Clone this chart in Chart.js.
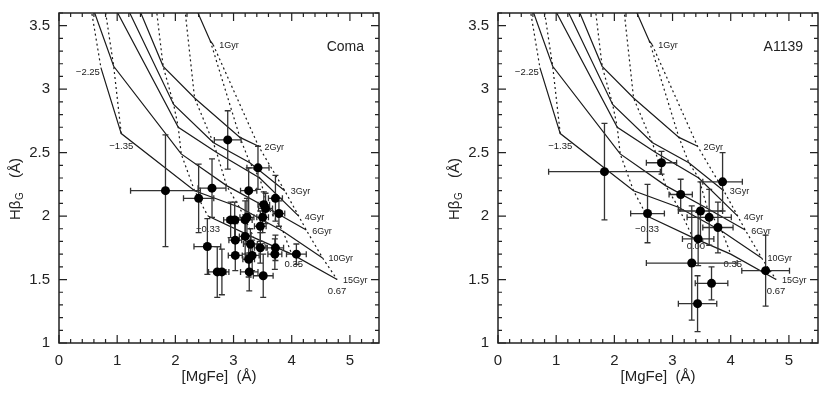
<!DOCTYPE html>
<html lang="en">
<head>
<meta charset="UTF-8">
<title>Hbeta_G vs [MgFe]</title>
<script src="https://cdn.jsdelivr.net/npm/chart.js@4.4.1/dist/chart.umd.min.js"></script>
<style>
  html, body { margin: 0; padding: 0; background: #fff; }
  #wrap { position: relative; width: 830px; height: 396px; }
  .panel { position: absolute; top: 0; width: 391px; height: 396px; }
</style>
</head>
<body>
<div id="wrap">
  <div class="panel" style="left:0"><canvas id="comaChart" width="391" height="396"></canvas></div>
  <div class="panel" style="left:439px"><canvas id="a1139Chart" width="391" height="396"></canvas></div>
</div>
<script>
// model grid, one row per metallicity, one column per age (null = no model)
var ages = ['1Gyr', '2Gyr', '3Gyr', '4Gyr', '6Gyr', '10Gyr', '15Gyr'];
var metals = ['\u22122.25', '\u22121.35', '\u22120.33', '0.00', '0.35', '0.67'];
var gridMgFe = [
  [0.20, 0.30, 0.38, 0.45, 0.52, 0.72, null],
  [1.00, 0.95, 0.85, 0.72, 0.94, 1.07, null],
  [1.50, 1.79, 1.97, 2.05, 2.10, 2.33, 2.56],
  [2.10, 2.33, 2.65, 2.71, 2.88, 3.10, 3.35],
  [2.60, 3.11, 3.28, 3.45, 3.60, 3.85, 4.00],
  [2.65, 3.43, 3.88, 4.12, 4.25, 4.53, 4.78]
];
var gridHb = [
  [5.00, 4.70, 4.30, 4.00, 3.72, 3.17, null],
  [4.60, 4.10, 3.95, 3.85, 3.18, 2.65, null],
  [4.30, 3.18, 2.88, 2.70, 2.49, 2.20, 2.00],
  [3.90, 2.93, 2.58, 2.50, 2.24, 2.07, 1.83],
  [3.38, 2.62, 2.42, 2.30, 2.06, 1.88, 1.70],
  [3.35, 2.55, 2.20, 2.00, 1.89, 1.67, 1.50]
];

// Coma galaxies
var comaMgFe    = [2.90, 3.42, 1.83, 2.40, 2.63, 3.26, 3.72, 3.52, 3.55, 3.78, 3.50, 3.23, 2.95, 3.02, 3.20, 3.46,
                   3.20, 3.03, 3.29, 2.55, 3.46, 3.72, 3.71, 4.08, 3.03, 3.26, 3.32, 2.72, 2.80, 3.27, 3.51];
var comaHb      = [2.60, 2.38, 2.20, 2.14, 2.22, 2.20, 2.14, 2.09, 2.06, 2.02, 1.99, 1.99, 1.97, 1.97, 1.97, 1.92,
                   1.84, 1.81, 1.78, 1.76, 1.75, 1.75, 1.70, 1.70, 1.69, 1.66, 1.69, 1.56, 1.56, 1.56, 1.53];
var comaMgFeErr = [0.23, 0.19, 0.60, 0.26, 0.24, 0.14, 0.12, 0.10, 0.12, 0.10, 0.10, 0.12, 0.12, 0.13, 0.12, 0.10,
                   0.10, 0.11, 0.12, 0.23, 0.10, 0.14, 0.12, 0.17, 0.12, 0.10, 0.12, 0.15, 0.12, 0.15, 0.17];
var comaHbErr   = [0.23, 0.17, 0.44, 0.27, 0.23, 0.18, 0.18, 0.10, 0.12, 0.10, 0.12, 0.15, 0.14, 0.14, 0.15, 0.12,
                   0.14, 0.13, 0.12, 0.22, 0.12, 0.10, 0.12, 0.08, 0.12, 0.14, 0.12, 0.20, 0.18, 0.15, 0.17];

// A1139 galaxies
var a1139MgFe    = [1.83, 2.81, 3.86, 3.14, 2.57, 3.48, 3.63, 3.78, 3.44, 3.33, 4.60, 3.67, 3.43];
var a1139Hb      = [2.35, 2.42, 2.27, 2.17, 2.02, 2.04, 1.99, 1.91, 1.82, 1.63, 1.57, 1.47, 1.31];
var a1139MgFeErr = [0.96, 0.26, 0.34, 0.20, 0.29, 0.38, 0.38, 0.26, 0.27, 0.78, 0.41, 0.28, 0.33];
var a1139HbErr   = [0.38, 0.09, 0.23, 0.12, 0.23, 0.23, 0.22, 0.20, 0.21, 0.45, 0.28, 0.13, 0.22];

var xTicks = [0, 1, 2, 3, 4, 5];
var yTicks = [1, 1.5, 2, 2.5, 3, 3.5];

var FONT = '"Liberation Sans", Arial, sans-serif';
var INK = '#1a1a1a';
// label placement for metallicity names: [dx, dy, align]
var metalLabelStyle = [[-1, 5, 'right'], [0, 13, 'center'], [0, 13, 'center'], [3, 9, 'center'], [2, 10, 'center'], [0, 12, 'center']];

function lastIndex(row) {
    var k = row.length - 1;
    while (row[k] === null) k--;
    return k;
}

function modelDatasets() {
    var sets = [];
    // constant age: solid lines through the metallicities
    ages.forEach(function (age, a) {
        var pts = [];
        metals.forEach(function (m, z) {
            if (gridMgFe[z][a] !== null) pts.push({ x: gridMgFe[z][a], y: gridHb[z][a] });
        });
        sets.push({ data: pts, showLine: true, borderColor: INK, borderWidth: 1.2, pointRadius: 0 });
    });
    // constant metallicity: dotted lines through the ages
    metals.forEach(function (m, z) {
        var pts = [];
        ages.forEach(function (age, a) {
            if (gridMgFe[z][a] !== null) pts.push({ x: gridMgFe[z][a], y: gridHb[z][a] });
        });
        sets.push({ data: pts, showLine: true, borderColor: INK, borderWidth: 1.2, borderDash: [2, 3], pointRadius: 0 });
    });
    return sets;
}

function noPadding(s) {
    s.paddingTop = 0; s.paddingBottom = 0; s.paddingLeft = 0; s.paddingRight = 0;
}

function makeChart(id, name, mgfe, hb, mgfeErr, hbErr) {
    var points = mgfe.map(function (x, i) { return { x: x, y: hb[i] }; });

    var panelPlugin = {
        id: 'panel',
        beforeDatasetDraw: function (chart, args) {
            if (args.index !== 0) return;
            var ctx = chart.ctx, xs = chart.scales.x, ys = chart.scales.y;
            ctx.save();
            ctx.fillStyle = INK;
            ctx.textBaseline = 'middle';
            ctx.font = '9px ' + FONT;
            ctx.textAlign = 'left';
            ages.forEach(function (age, a) {
                ctx.fillText(age, xs.getPixelForValue(gridMgFe[5][a]) + 6, ys.getPixelForValue(gridHb[5][a]) + 1);
            });
            ctx.font = '9.5px ' + FONT;
            metals.forEach(function (m, z) {
                var k = lastIndex(gridMgFe[z]), st = metalLabelStyle[z];
                ctx.textAlign = st[2];
                ctx.fillText(m, xs.getPixelForValue(gridMgFe[z][k]) + st[0], ys.getPixelForValue(gridHb[z][k]) + st[1]);
            });

            // error bars
            ctx.strokeStyle = '#333';
            ctx.lineWidth = 1.3;
            points.forEach(function (p, i) {
                var px = xs.getPixelForValue(p.x), py = ys.getPixelForValue(p.y);
                var x0 = xs.getPixelForValue(p.x - mgfeErr[i]), x1 = xs.getPixelForValue(p.x + mgfeErr[i]);
                var y0 = ys.getPixelForValue(p.y - hbErr[i]), y1 = ys.getPixelForValue(p.y + hbErr[i]);
                ctx.beginPath();
                ctx.moveTo(x0, py); ctx.lineTo(x1, py);
                ctx.moveTo(x0, py - 3); ctx.lineTo(x0, py + 3);
                ctx.moveTo(x1, py - 3); ctx.lineTo(x1, py + 3);
                ctx.moveTo(px, y0); ctx.lineTo(px, y1);
                ctx.moveTo(px - 3, y0); ctx.lineTo(px + 3, y0);
                ctx.moveTo(px - 3, y1); ctx.lineTo(px + 3, y1);
                ctx.stroke();
            });
            ctx.restore();
        },
        afterDraw: function (chart) {
            var ctx = chart.ctx, area = chart.chartArea, xs = chart.scales.x, ys = chart.scales.y;
            ctx.save();
            ctx.strokeStyle = '#222';
            ctx.lineWidth = 1.5;
            ctx.strokeRect(area.left, area.top, area.right - area.left, area.bottom - area.top);

            // inward ticks on all four sides
            ctx.lineWidth = 1.2;
            ctx.beginPath();
            var v, px, len;
            for (v = 0; v <= 5.5001; v += 0.2) {
                px = xs.getPixelForValue(v);
                len = Math.abs(v - Math.round(v)) < 0.001 ? 8 : 4;
                ctx.moveTo(px, area.bottom); ctx.lineTo(px, area.bottom - len);
                ctx.moveTo(px, area.top); ctx.lineTo(px, area.top + len);
            }
            for (v = 1; v <= 3.6001; v += 0.1) {
                px = ys.getPixelForValue(v);
                len = Math.abs(v * 2 - Math.round(v * 2)) < 0.001 ? 8 : 4;
                ctx.moveTo(area.left, px); ctx.lineTo(area.left + len, px);
                ctx.moveTo(area.right, px); ctx.lineTo(area.right - len, px);
            }
            ctx.stroke();

            // y title with subscript
            ctx.fillStyle = '#222';
            ctx.translate(area.left - 39, 220);
            ctx.rotate(-Math.PI / 2);
            ctx.textAlign = 'left';
            ctx.textBaseline = 'alphabetic';
            ctx.font = '15px ' + FONT;
            ctx.fillText('H\u03b2', 0, 0);
            var w = ctx.measureText('H\u03b2').width;
            ctx.font = '10px ' + FONT;
            ctx.fillText('G', w + 0.5, 3);
            ctx.font = '15px ' + FONT;
            ctx.fillText('(\u00c5)', 42, 0);
            ctx.restore();

            ctx.save();
            ctx.fillStyle = '#222';
            ctx.font = '14px ' + FONT;
            ctx.textAlign = 'right';
            ctx.textBaseline = 'middle';
            ctx.fillText(name, area.right - 15, 47);
            ctx.restore();
        }
    };

    var datasets = [{
        data: points,
        showLine: false,
        pointRadius: 4.5,
        pointBackgroundColor: '#000',
        pointBorderWidth: 0
    }].concat(modelDatasets());

    return new Chart(document.getElementById(id).getContext('2d'), {
        type: 'scatter',
        data: { datasets: datasets },
        options: {
            responsive: false,
            animation: false,
            layout: { padding: { left: 0, right: 12, top: 13, bottom: 0 } },
            plugins: { legend: { display: false }, tooltip: { enabled: false } },
            scales: {
                x: {
                    type: 'linear', min: 0, max: 5.5,
                    grid: { display: false, drawTicks: false },
                    border: { display: false },
                    ticks: { font: { family: FONT, size: 15 }, color: '#222', padding: 9, maxRotation: 0,
                             callback: function (v) { return String(v); } },
                    afterBuildTicks: function (s) { s.ticks = xTicks.map(function (t) { return { value: t }; }); },
                    afterFit: function (s) { s.height = 53; noPadding(s); },
                    title: { display: true, text: '[MgFe]  (\u00c5)', font: { family: FONT, size: 15 }, color: '#222',
                             padding: { top: 0, bottom: 10 } }
                },
                y: {
                    type: 'linear', min: 1, max: 3.6,
                    grid: { display: false, drawTicks: false },
                    border: { display: false },
                    ticks: { font: { family: FONT, size: 15 }, color: '#222', padding: 9,
                             callback: function (v) { return String(v); } },
                    afterBuildTicks: function (s) { s.ticks = yTicks.map(function (t) { return { value: t }; }); },
                    afterFit: function (s) { s.width = 59; noPadding(s); }
                }
            }
        },
        plugins: [panelPlugin]
    });
}

makeChart('comaChart', 'Coma', comaMgFe, comaHb, comaMgFeErr, comaHbErr);
makeChart('a1139Chart', 'A1139', a1139MgFe, a1139Hb, a1139MgFeErr, a1139HbErr);
</script>
</body>
</html>
